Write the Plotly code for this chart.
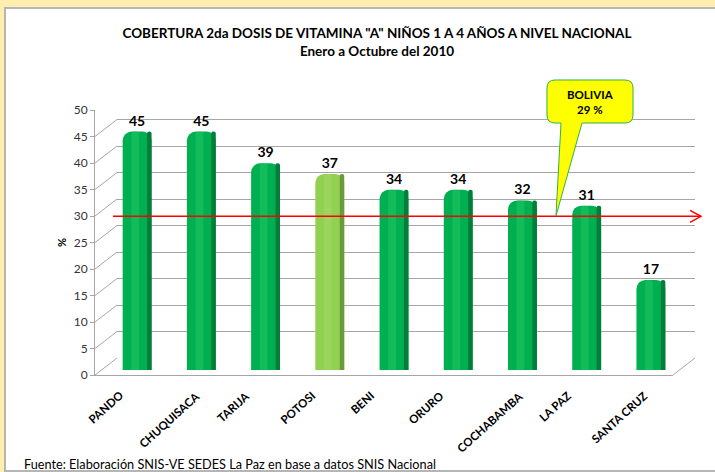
import plotly.graph_objects as go

# Data
departamentos = ["PANDO", "CHUQUISACA", "TARIJA", "POTOSI", "BENI",
                 "ORURO", "COCHABAMBA", "LA PAZ", "SANTA CRUZ"]
cobertura = [45, 45, 39, 37, 34, 34, 32, 31, 17]
bar_colors = ["#00B050", "#00B050", "#00B050", "#92D050", "#00B050",
              "#00B050", "#00B050", "#00B050", "#00B050"]
side_colors = ["#007E3A", "#007E3A", "#007E3A", "#6A9A3A", "#007E3A",
               "#007E3A", "#007E3A", "#007E3A", "#007E3A"]
light_colors = ["#1EC462", "#1EC462", "#1EC462", "#A2D86A", "#1EC462",
                "#1EC462", "#1EC462", "#1EC462", "#1EC462"]
nacional = 29
y_ticks = list(range(0, 55, 5))

FONT = "Lato"
W, H = 715, 472
ML, MR, MT, MB = 95, 20, 93, 97
PW, PH = W - ML - MR, H - MT - MB
DX, DY = 22, 17  # depth of the fake 3D box


def px(x, y):
    # pixel -> paper coordinates
    return (x - ML) / PW, (H - MB - y) / PH


fig = go.Figure()

# bars (mid depth)
fig.add_trace(go.Bar(
    x=departamentos, y=cobertura, xaxis="x3", yaxis="y3",
    width=0.45, offset=-0.225,
    marker=dict(color=bar_colors, cornerradius=9, line=dict(width=0)),
    text=[str(v) for v in cobertura], textposition="outside",
    textfont=dict(family=FONT, size=14, color="black", weight="bold"),
    cliponaxis=False, hoverinfo="x+y", showlegend=False,
))
fig.add_trace(go.Bar(
    x=departamentos, y=cobertura, xaxis="x3", yaxis="y3",
    width=0.12, offset=-0.09,
    marker=dict(color=light_colors, cornerradius=6, line=dict(width=0), opacity=0.6),
    hoverinfo="skip", showlegend=False,
))
fig.add_trace(go.Bar(
    x=departamentos, y=cobertura, xaxis="x3", yaxis="y3",
    width=0.07, offset=0.155,
    marker=dict(color=side_colors, cornerradius=6, line=dict(width=0)),
    hoverinfo="skip", showlegend=False,
))
# back wall placeholder trace
fig.add_trace(go.Scatter(x=[0], y=[0], xaxis="x2", yaxis="y2", mode="markers",
                         marker=dict(opacity=0), hoverinfo="skip", showlegend=False))

fd_x = [0, (PW - DX) / PW]
fd_y = [0, (PH - DY) / PH]

fig.update_layout(
    width=W, height=H,
    margin=dict(l=ML, r=MR, t=MT, b=MB, autoexpand=False),
    paper_bgcolor="#FFEEAD",
    plot_bgcolor="rgba(0,0,0,0)",
    font=dict(family=FONT, color="#222"),
    barmode="overlay",
    title=dict(
        text="COBERTURA 2da DOSIS DE VITAMINA \"A\" NIÑOS 1 A 4 AÑOS A NIVEL NACIONAL<br>Enero a Octubre del 2010",
        x=377 / W, xanchor="center", y=1 - 38 / H, yanchor="top",
        font=dict(family=FONT, size=13.5, color="black", weight="bold"),
    ),
    # front axes (category labels are drawn as rotated annotations below)
    xaxis=dict(domain=fd_x, anchor="y", type="category", range=[-0.5, 8.5],
               categoryarray=departamentos, automargin=False, showticklabels=False,
               showline=True, linecolor="#A6A6A6", showgrid=False, ticks=""),
    yaxis=dict(domain=fd_y, anchor="x", range=[0, 50], tickvals=y_ticks,
               showline=True, linecolor="#A6A6A6", ticks="outside", ticklen=4,
               tickcolor="#A6A6A6", showgrid=False, zeroline=False, automargin=False,
               tickfont=dict(family=FONT, size=12, color="#333"),
               title=dict(text="%", standoff=4,
                          font=dict(family=FONT, size=11, color="black", weight="bold"))),
    # back wall: grid lines
    xaxis2=dict(domain=[DX / PW, 1], anchor="y2", range=[0, 1], visible=False,
                automargin=False),
    yaxis2=dict(domain=[DY / PH, 1], anchor="x2", range=[0, 50], tickvals=y_ticks,
                showgrid=True, gridcolor="#A6A6A6", gridwidth=1, zeroline=False,
                showticklabels=False, ticks="", automargin=False),
    # bars in the middle of the depth
    xaxis3=dict(domain=[10 / PW, (PW - DX + 10) / PW], anchor="y3", type="category",
                range=[-0.5, 8.5], categoryarray=departamentos, visible=False,
                automargin=False),
    yaxis3=dict(domain=[5 / PH, (PH - DY + 5) / PH], anchor="x3", range=[0, 50],
                visible=False, automargin=False),
)

shapes = []
# white panel behind the chart
x0, y0 = px(5, 8)
x1, y1 = px(716, 471)
shapes.append(dict(type="rect", xref="paper", yref="paper", x0=x0, y0=y1, x1=x1, y1=y0,
                   fillcolor="white", line=dict(color="#B5B5B5", width=2), layer="below"))
# left wall diagonals
for t in y_ticks:
    shapes.append(dict(type="line", xref="paper", yref="y", xsizemode="pixel",
                       ysizemode="pixel", xanchor=0, yanchor=t,
                       x0=0, x1=DX, y0=0, y1=DY, line=dict(color="#A6A6A6", width=1)))
# floor right diagonal
shapes.append(dict(type="line", xref="paper", yref="y", xsizemode="pixel",
                   ysizemode="pixel", xanchor=fd_x[1], yanchor=0,
                   x0=0, x1=DX, y0=0, y1=DY, line=dict(color="#A6A6A6", width=1)))
# national average line with open arrow head
lx0, _ = px(113, 0)
lx1, _ = px(701, 0)
shapes.append(dict(type="line", xref="paper", yref="y3", x0=lx0, x1=lx1,
                   y0=nacional, y1=nacional, line=dict(color="#FF0000", width=1.5)))
shapes.append(dict(type="path", xref="paper", yref="y3", xsizemode="pixel",
                   ysizemode="pixel", xanchor=lx1, yanchor=nacional,
                   path="M -11,6 L 0,0 L -11,-6", line=dict(color="#FF0000", width=1.5)))

# callout box for national value
bx0, bx1, by0, by1, r = 547, 633, 80, 123, 8
tip = (556, 216)
pl, pr = 561, 582
pts = [
    ("M", bx0 + r, by0), ("L", bx1 - r, by0), ("Q", bx1, by0, bx1, by0 + r),
    ("L", bx1, by1 - r), ("Q", bx1, by1, bx1 - r, by1),
    ("L", pr, by1), ("L", tip[0], tip[1]), ("L", pl, by1),
    ("L", bx0 + r, by1), ("Q", bx0, by1, bx0, by1 - r),
    ("L", bx0, by0 + r), ("Q", bx0, by0, bx0 + r, by0),
]
path = ""
for p in pts:
    cmd, coords = p[0], p[1:]
    pp = []
    for i in range(0, len(coords), 2):
        a, b = px(coords[i], coords[i + 1])
        pp.append(f"{a:.4f},{b:.4f}")
    path += cmd + " " + " ".join(pp) + " "
path += "Z"
shapes.append(dict(type="path", xref="paper", yref="paper", path=path,
                   fillcolor="#FFFF00", line=dict(color="#2DB34A", width=1)))
fig.update_layout(shapes=shapes)

cx, cy = px((bx0 + bx1) / 2, (by0 + by1) / 2)
fx, fy = px(22, 464)
_, ly = px(0, 386)
annotations = [
    dict(xref="paper", yref="paper", x=cx, y=cy, xanchor="center", yanchor="middle",
         showarrow=False, text=f"BOLIVIA<br>{nacional} %", align="center",
         font=dict(family=FONT, size=11.5, color="black", weight="bold")),
    dict(xref="paper", yref="paper", x=fx, y=fy, xanchor="left", yanchor="middle",
         showarrow=False, text="Fuente: Elaboración SNIS-VE SEDES La Paz en base a datos SNIS Nacional",
         font=dict(family=FONT, size=12.7, color="black")),
]
# rotated category labels, centred a little left of each category
for d in departamentos:
    annotations.append(dict(xref="x", yref="paper", x=d, y=ly, xshift=-22,
                            xanchor="center", yanchor="top", textangle=-42,
                            showarrow=False, text=d,
                            font=dict(family=FONT, size=11.5, color="black",
                                      weight="bold")))
fig.update_layout(annotations=annotations)

# page body has a default 8px margin; remove it so the figure fills the window
fig.write_html("out.html", config={"displayModeBar": False},
               post_script="document.body.style.margin='0';")
